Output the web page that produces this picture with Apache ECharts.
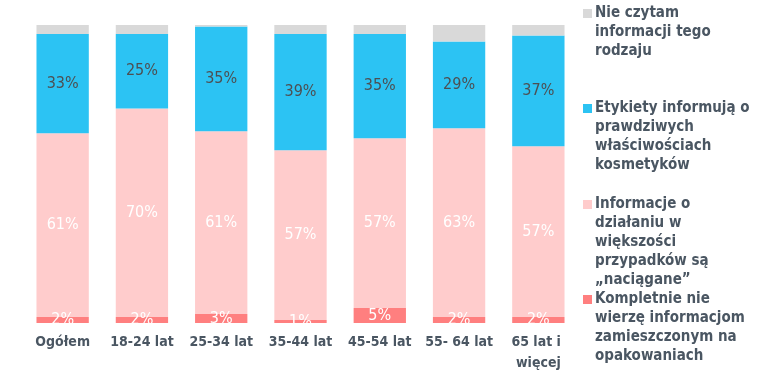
<!DOCTYPE html>
<html>
<head>
<meta charset="utf-8">
<script src="https://cdn.jsdelivr.net/npm/echarts@6/dist/echarts.min.js"></script>
<style>html,body{margin:0;padding:0;background:#fff}#c{width:763px;height:385px}</style>
</head>
<body>
<div id="c"></div>
<script>
const categories = ['Ogółem', '18-24 lat', '25-34 lat', '35-44 lat', '45-54 lat', '55- 64 lat', '65 lat i więcej'];
const kompletnie = [2, 2, 3, 1, 5, 2, 2];
const naciagane = [61, 70, 61, 57, 57, 63, 57];
const etykiety = [33, 25, 35, 39, 35, 29, 37];
const nieCzytam = [3, 3, 0.5, 3, 3, 5.5, 3.5];

const seriesNames = [
  'Nie czytam informacji tego rodzaju',
  'Etykiety informują o prawdziwych właściwościach kosmetyków',
  'Informacje o działaniu w większości przypadków są „naciągane”',
  'Kompletnie nie wierzę informacjom zamieszczonym na opakowaniach'
];
const legendLines = [
  ['Nie czytam', 'informacji tego', 'rodzaju'],
  ['Etykiety informują o', 'prawdziwych', 'właściwościach', 'kosmetyków'],
  ['Informacje o', 'działaniu w', 'większości', 'przypadków są', '„naciągane”'],
  ['Kompletnie nie', 'wierzę informacjom', 'zamieszczonym na', 'opakowaniach']
];

const colors = ['#D9D9D9', '#2CC3F3', '#FFCCCC', '#FF7F7F'];
const textColor = '#4A5662';
const FONT = "'DejaVu Sans Condensed', 'DejaVu Sans', sans-serif";

const totals = categories.map((_, i) => kompletnie[i] + naciagane[i] + etykiety[i] + nieCzytam[i]);
const norm = arr => arr.map((v, i) => v / totals[i] * 100);

function mkSeries(name, raw, color, labelColor, showLabel) {
  return {
    name: name,
    type: 'bar',
    stack: 'total',
    barWidth: '66%',
    data: norm(raw),
    itemStyle: { color: color },
    label: {
      show: showLabel,
      position: 'inside',
      color: labelColor,
      fontSize: 16,
      fontFamily: FONT,
      formatter: p => raw[p.dataIndex] + '%'
    },
    emphasis: { disabled: true }
  };
}

const legendTops = [6, 101, 197, 292];
const rich = {
  t: { fontSize: 15, fontWeight: 'bold', color: textColor, lineHeight: 19, fontFamily: FONT },
  ind: { width: 12, lineHeight: 19 },
  g: { width: 3 }
};
colors.forEach((c, i) => { rich['sq' + i] = { width: 9, height: 9, backgroundColor: c, verticalAlign: 'middle' }; });

const legends = seriesNames.map((n, i) => ({
  data: [n],
  left: 578,
  top: legendTops[i],
  padding: 0,
  icon: 'none',
  itemWidth: 0,
  itemHeight: 9,
  selectedMode: false,
  orient: 'vertical',
  textStyle: { rich: rich },
  formatter: () => legendLines[i].map((l, k) => k === 0 ? '{sq' + i + '|}{g|}{t|' + l + '}' : '{ind|}{t|' + l + '}').join('\n')
}));

const chart = echarts.init(document.getElementById('c'), null, { renderer: 'canvas' });
chart.setOption({
  animation: false,
  legend: legends,
  grid: { left: 23, right: 185, top: 25, bottom: 62, containLabel: false },
  xAxis: {
    type: 'category',
    data: categories,
    axisLine: { show: false },
    axisTick: { show: false },
    axisLabel: {
      interval: 0,
      margin: 9,
      fontSize: 14,
      fontWeight: 'bold',
      color: textColor,
      fontFamily: FONT,
      width: 78,
      overflow: 'break',
      lineHeight: 21
    }
  },
  yAxis: { type: 'value', min: 0, max: 100, show: false, splitLine: { show: false } },
  series: [
    mkSeries(seriesNames[3], kompletnie, colors[3], '#FFFFFF', true),
    mkSeries(seriesNames[2], naciagane, colors[2], '#FFFFFF', true),
    mkSeries(seriesNames[1], etykiety, colors[1], '#4D4F52', true),
    mkSeries(seriesNames[0], nieCzytam, colors[0], '#4D4F52', false)
  ]
});
</script>
</body>
</html>
